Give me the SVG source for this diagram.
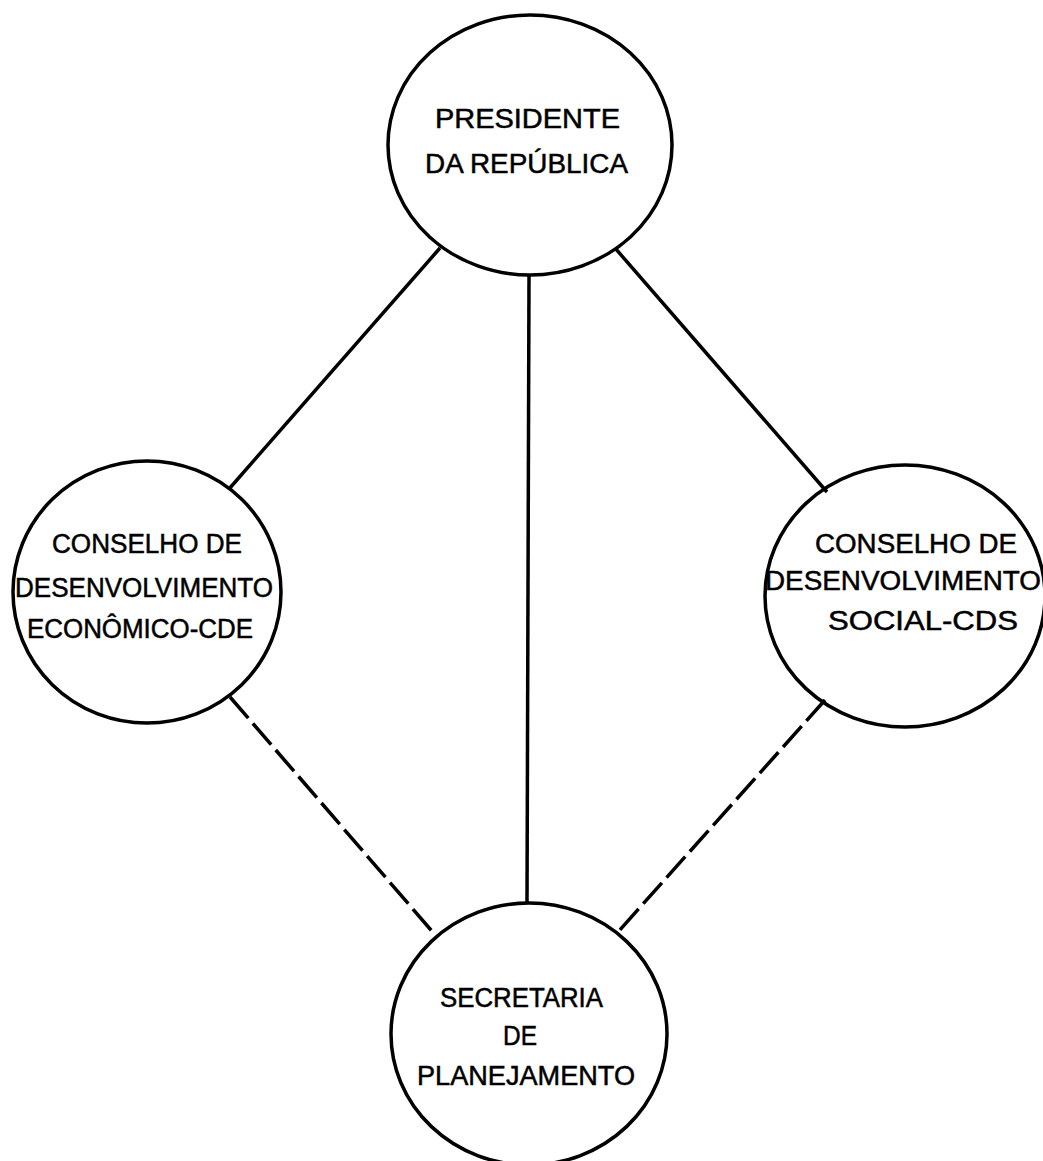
<svg xmlns="http://www.w3.org/2000/svg" width="1043" height="1161" viewBox="0 0 1043 1161">
<style>
.node{fill:none;stroke:#000;stroke-width:3.5}
.lbl{font-family:"Liberation Sans","Arial",sans-serif;font-size:27px;fill:#000;stroke:#000;stroke-width:0.5}
.solid{stroke:#000;stroke-width:3.5;fill:none}
.dash{stroke:#000;stroke-width:3.5;fill:none;stroke-dasharray:28 7}
</style>
<rect width="1043" height="1161" fill="#fff"/>
<g id="connectors">
<line class="solid" x1="440" y1="248" x2="229" y2="489"/>
<line class="solid" x1="529" y1="276" x2="527" y2="903"/>
<line class="solid" x1="615" y1="248" x2="827" y2="492"/>
<line class="dash" x1="230" y1="697" x2="437" y2="937"/>
<line class="dash" x1="825" y1="700" x2="618" y2="932"/>
</g>
<g id="presidente">
<ellipse class="node" cx="530" cy="145" rx="142" ry="130"/>
<text class="lbl" x="435" y="128" textLength="185" lengthAdjust="spacingAndGlyphs">PRESIDENTE</text>
<text class="lbl" x="425" y="173" textLength="203" lengthAdjust="spacingAndGlyphs">DA REPÚBLICA</text>
</g>
<g id="cde">
<ellipse class="node" cx="147" cy="592" rx="134" ry="131"/>
<text class="lbl" x="52" y="553" textLength="190" lengthAdjust="spacingAndGlyphs">CONSELHO DE</text>
<text class="lbl" x="15" y="597" textLength="258" lengthAdjust="spacingAndGlyphs">DESENVOLVIMENTO</text>
<text class="lbl" x="27" y="638" textLength="226" lengthAdjust="spacingAndGlyphs">ECONÔMICO-CDE</text>
</g>
<g id="cds">
<ellipse class="node" cx="905" cy="596" rx="140" ry="131"/>
<text class="lbl" x="815" y="553" textLength="202" lengthAdjust="spacingAndGlyphs">CONSELHO  DE</text>
<text class="lbl" x="765" y="590" textLength="276" lengthAdjust="spacingAndGlyphs">DESENVOLVIMENTO</text>
<text class="lbl" x="828" y="630" textLength="190" lengthAdjust="spacingAndGlyphs">SOCIAL-CDS</text>
</g>
<g id="seplan">
<ellipse class="node" cx="529" cy="1034" rx="138" ry="131"/>
<text class="lbl" x="440" y="1007" textLength="163" lengthAdjust="spacingAndGlyphs">SECRETARIA</text>
<text class="lbl" x="503" y="1045" textLength="34" lengthAdjust="spacingAndGlyphs">DE</text>
<text class="lbl" x="417" y="1085" textLength="218" lengthAdjust="spacingAndGlyphs">PLANEJAMENTO</text>
</g>
</svg>
